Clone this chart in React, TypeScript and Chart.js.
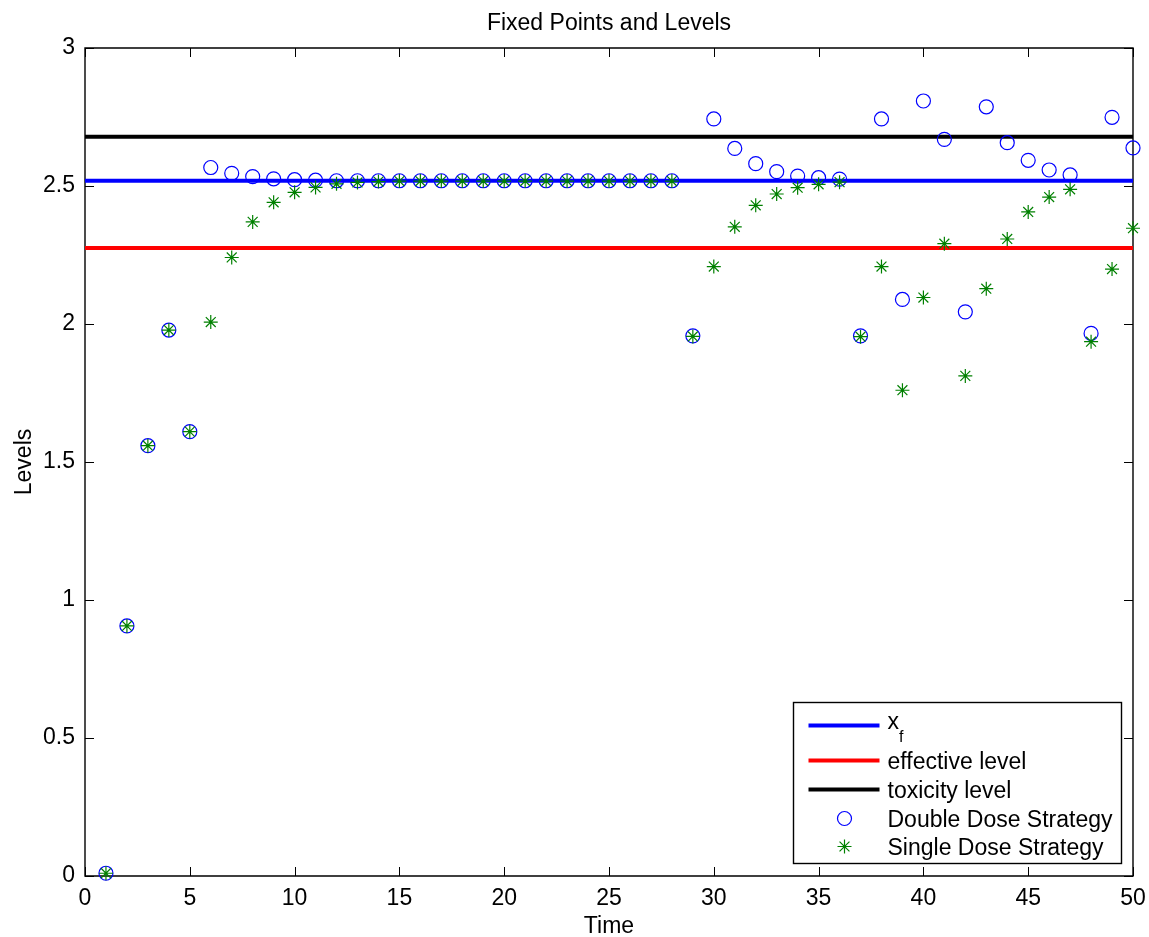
import React, { useEffect, useRef } from 'react';
import { Chart, registerables } from 'chart.js';

Chart.register(...registerables);

const FONT = '"Liberation Sans", Arial, Helvetica, sans-serif';

const TIME = [
  1, 2, 3, 4, 5, 6, 7, 8, 9, 10, 11, 12, 13, 14, 15, 16, 17, 18, 19, 20, 21, 22, 23, 24, 25,
  26, 27, 28, 29, 30, 31, 32, 33, 34, 35, 36, 37, 38, 39, 40, 41, 42, 43, 44, 45, 46, 47, 48, 49, 50,
];

const DOUBLE_DOSE = [
  0.01, 0.906, 1.559, 1.978, 1.61, 2.567, 2.546, 2.534, 2.526, 2.523,
  2.521, 2.519, 2.519, 2.519, 2.519, 2.519, 2.519, 2.519, 2.519, 2.519,
  2.519, 2.519, 2.519, 2.519, 2.519, 2.519, 2.519, 2.519, 1.957, 2.743,
  2.636, 2.581, 2.552, 2.536, 2.53, 2.525, 1.957, 2.743, 2.089, 2.808,
  2.669, 2.044, 2.787, 2.657, 2.593, 2.558, 2.54, 1.966, 2.749, 2.638,
];

const SINGLE_DOSE = [
  0.01, 0.906, 1.559, 1.978, 1.61, 2.007, 2.241, 2.37, 2.441, 2.477,
  2.495, 2.508, 2.513, 2.516, 2.518, 2.518, 2.518, 2.518, 2.518, 2.518,
  2.518, 2.518, 2.518, 2.518, 2.518, 2.518, 2.518, 2.518, 1.955, 2.208,
  2.352, 2.43, 2.471, 2.494, 2.506, 2.514, 1.954, 2.208, 1.76, 2.096,
  2.291, 1.812, 2.128, 2.308, 2.406, 2.46, 2.488, 1.936, 2.199, 2.347,
];

const XF_LEVEL = 2.519;
const EFFECTIVE_LEVEL = 2.275;
const TOXICITY_LEVEL = 2.678;
const LEVEL_SPAN = [0, 50];

const X_TICKS = [0, 5, 10, 15, 20, 25, 30, 35, 40, 45, 50];
const X_TICK_LABELS = ['0', '5', '10', '15', '20', '25', '30', '35', '40', '45', '50'];
const Y_TICKS = [0, 0.5, 1, 1.5, 2, 2.5, 3];
const Y_TICK_LABELS = ['0', '0.5', '1', '1.5', '2', '2.5', '3'];

const TITLE = 'Fixed Points and Levels';
const X_LABEL = 'Time';
const Y_LABEL = 'Levels';

const framePlugin = {
  id: 'matlabFrame',
  beforeDatasetsDraw(chart: any) {
    const { ctx, chartArea: a, scales } = chart;
    ctx.save();
    ctx.strokeStyle = '#000';
    ctx.lineWidth = 1.4;
    ctx.beginPath();
    ctx.rect(a.left, a.top, a.right - a.left, a.bottom - a.top);
    ctx.stroke();
    const tl = 9;
    ctx.lineWidth = 1;
    ctx.beginPath();
    for (const v of X_TICKS) {
      const x = Math.round(scales.x.getPixelForValue(v)) + 0.5;
      ctx.moveTo(x, a.bottom);
      ctx.lineTo(x, a.bottom - tl);
      ctx.moveTo(x, a.top);
      ctx.lineTo(x, a.top + tl);
    }
    for (const v of Y_TICKS) {
      const y = Math.round(scales.y.getPixelForValue(v)) + 0.5;
      ctx.moveTo(a.left, y);
      ctx.lineTo(a.left + tl, y);
      ctx.moveTo(a.right, y);
      ctx.lineTo(a.right - tl, y);
    }
    ctx.stroke();
    ctx.fillStyle = '#000';
    ctx.font = `23px ${FONT}`;
    ctx.textAlign = 'center';
    ctx.textBaseline = 'alphabetic';
    const cx = (a.left + a.right) / 2;
    ctx.fillText(TITLE, cx, a.top - 18);
    ctx.fillText(X_LABEL, cx, a.bottom + 57);
    ctx.save();
    ctx.translate(31, (a.top + a.bottom) / 2);
    ctx.rotate(-Math.PI / 2);
    ctx.fillText(Y_LABEL, 0, 0);
    ctx.restore();
    ctx.restore();
  },
};

const legendPlugin = {
  id: 'boxLegend',
  afterDraw(chart: any) {
    const { ctx, chartArea: a } = chart;
    const right = a.right - 11.5;
    const bottom = a.bottom - 12.5;
    const left = right - 328;
    const top = bottom - 161;
    ctx.save();
    ctx.fillStyle = '#fff';
    ctx.fillRect(left, top, right - left, bottom - top);
    ctx.strokeStyle = '#000';
    ctx.lineWidth = 1.4;
    ctx.strokeRect(left, top, right - left, bottom - top);
    const rows = [23, 58, 87, 116, 144];
    const textX = left + 94;
    chart.data.datasets.forEach((ds: any, i: number) => {
      const cy = top + rows[i];
      if (ds.type === 'line') {
        ctx.strokeStyle = ds.borderColor;
        ctx.lineWidth = 4;
        ctx.beginPath();
        ctx.moveTo(left + 15, cy);
        ctx.lineTo(left + 86, cy);
        ctx.stroke();
      } else {
        const mx = left + 51;
        const r = 7;
        ctx.strokeStyle = ds.borderColor;
        ctx.lineWidth = 1.2;
        ctx.beginPath();
        if (ds.pointStyle === 'circle') {
          ctx.arc(mx, cy, r, 0, Math.PI * 2);
        } else {
          const d = r * Math.SQRT1_2;
          ctx.moveTo(mx - r, cy); ctx.lineTo(mx + r, cy);
          ctx.moveTo(mx, cy - r); ctx.lineTo(mx, cy + r);
          ctx.moveTo(mx - d, cy - d); ctx.lineTo(mx + d, cy + d);
          ctx.moveTo(mx - d, cy + d); ctx.lineTo(mx + d, cy - d);
        }
        ctx.stroke();
      }
      ctx.fillStyle = '#000';
      ctx.textAlign = 'left';
      ctx.textBaseline = 'alphabetic';
      const label: string = ds.label;
      if (label.includes('_')) {
        const [base, sub] = label.split('_');
        ctx.font = `23px ${FONT}`;
        ctx.fillText(base, textX, cy + 3);
        const w = ctx.measureText(base).width;
        ctx.font = `16px ${FONT}`;
        ctx.fillText(sub, textX + w, cy + 16);
      } else {
        ctx.font = `23px ${FONT}`;
        ctx.fillText(label, textX, cy + 8);
      }
    });
    ctx.restore();
  },
};

export default function App() {
  const canvasRef = useRef<HTMLCanvasElement | null>(null);

  useEffect(() => {
    document.body.style.margin = '0';
    const canvas = canvasRef.current;
    if (!canvas) return;
    const levelLine = (value: number) => LEVEL_SPAN.map((x) => ({ x, y: value }));
    const chart = new Chart(canvas, {
      type: 'scatter',
      data: {
        datasets: [
          {
            type: 'line',
            label: 'x_f',
            data: levelLine(XF_LEVEL),
            borderColor: '#0000ff',
            borderWidth: 4,
            pointRadius: 0,
            order: 4,
          },
          {
            type: 'line',
            label: 'effective level',
            data: levelLine(EFFECTIVE_LEVEL),
            borderColor: '#ff0000',
            borderWidth: 4,
            pointRadius: 0,
            order: 3,
          },
          {
            type: 'line',
            label: 'toxicity level',
            data: levelLine(TOXICITY_LEVEL),
            borderColor: '#000000',
            borderWidth: 4,
            pointRadius: 0,
            order: 2,
          },
          {
            type: 'scatter',
            label: 'Double Dose Strategy',
            data: TIME.map((t, i) => ({ x: t, y: DOUBLE_DOSE[i] })),
            pointStyle: 'circle',
            pointRadius: 7,
            pointBorderWidth: 1.2,
            borderColor: '#0000ff',
            pointBorderColor: '#0000ff',
            backgroundColor: 'rgba(0,0,0,0)',
            pointBackgroundColor: 'rgba(0,0,0,0)',
            clip: false,
            order: 1,
          },
          {
            type: 'scatter',
            label: 'Single Dose Strategy',
            data: TIME.map((t, i) => ({ x: t, y: SINGLE_DOSE[i] })),
            pointStyle: 'star',
            pointRadius: 7,
            pointBorderWidth: 1.2,
            borderColor: '#008000',
            pointBorderColor: '#008000',
            backgroundColor: 'rgba(0,0,0,0)',
            clip: false,
            order: 0,
          },
        ] as any,
      },
      options: {
        responsive: false,
        animation: false,
        devicePixelRatio: 1,
        layout: { padding: { top: 48, right: 16, left: 0, bottom: 0 } },
        plugins: {
          legend: { display: false },
          title: { display: false },
          tooltip: { enabled: false },
        },
        scales: {
          x: {
            type: 'linear',
            min: 0,
            max: 50,
            grid: { display: false, drawTicks: false },
            border: { display: false },
            afterBuildTicks: (s: any) => {
              s.ticks = X_TICKS.map((v) => ({ value: v }));
            },
            afterFit: (s: any) => {
              s.height = 61;
              s.paddingLeft = 0;
              s.paddingRight = 0;
            },
            ticks: {
              autoSkip: false,
              maxRotation: 0,
              padding: 9,
              color: '#000',
              font: { family: FONT, size: 23 },
              callback: (v: any) => X_TICK_LABELS[X_TICKS.indexOf(Number(v))] ?? '',
            },
          },
          y: {
            type: 'linear',
            min: 0,
            max: 3,
            grid: { display: false, drawTicks: false },
            border: { display: false },
            afterBuildTicks: (s: any) => {
              s.ticks = Y_TICKS.map((v) => ({ value: v }));
            },
            afterFit: (s: any) => {
              s.width = 85;
              s.paddingTop = 0;
              s.paddingBottom = 0;
            },
            ticks: {
              autoSkip: false,
              padding: 10,
              color: '#000',
              font: { family: FONT, size: 23 },
              callback: (v: any) => Y_TICK_LABELS[Y_TICKS.indexOf(Number(v))] ?? '',
            },
          },
        },
      } as any,
      plugins: [framePlugin, legendPlugin],
    });
    return () => chart.destroy();
  }, []);

  return (
    <div style={{ width: 1149, height: 937 }}>
      <canvas ref={canvasRef} width={1149} height={937} style={{ display: 'block' }} />
    </div>
  );
}
